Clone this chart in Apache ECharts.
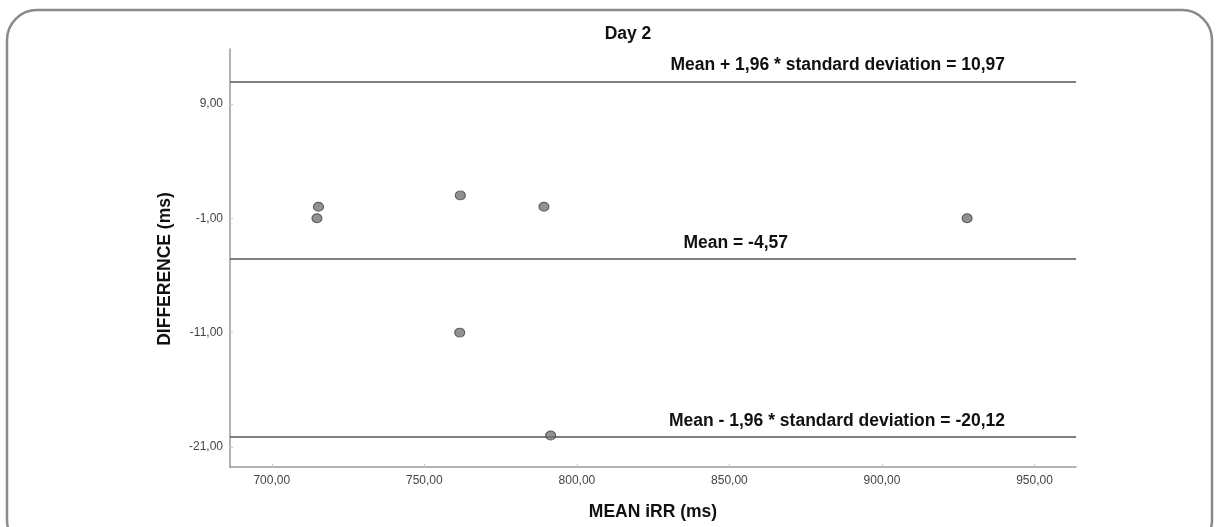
<!DOCTYPE html>
<html>
<head>
<meta charset="utf-8">
<script src="https://cdn.jsdelivr.net/npm/echarts@6/dist/echarts.min.js"></script>
<style>
html,body{margin:0;padding:0;background:#fff;}
#chart{width:1219px;height:527px;}
</style>
</head>
<body>
<div id="chart"></div>
<script>
// Data
const meanIRR = [715.3, 714.8, 761.8, 789.2, 927.9, 761.6, 791.4];
const difference = [0, -1, 1, 0, -1, -11, -20];
const xTicks = [700, 750, 800, 850, 900, 950];
const yTicks = [9, -1, -11, -21];
const refValues = [10.97, -4.57, -20.12];
const refLabels = [
  'Mean + 1,96 * standard deviation = 10,97',
  'Mean = -4,57',
  'Mean - 1,96 * standard deviation = -20,12'
];
const titleText = 'Day 2';
const xName = 'MEAN iRR (ms)';
const yName = 'DIFFERENCE (ms)';

const points = meanIRR.map((x, i) => [x, difference[i]]);
const fmt = v => v.toFixed(2).replace('.', ',');
const FONT = '"Liberation Sans", Arial, sans-serif';
const labelPad = [64, 281, 64];

const chart = echarts.init(document.getElementById('chart'), null, {renderer: 'canvas'});
chart.setOption({
  animation: false,
  backgroundColor: '#ffffff',
  graphic: [{
    type: 'rect',
    shape: {x: 7, y: 10, width: 1205, height: 540, r: 30},
    style: {fill: 'none', stroke: '#8a8a8a', lineWidth: 2.5},
    silent: true, z: -10
  }],
  title: {
    text: titleText,
    left: 623, top: 20,
    textAlign: 'center',
    textStyle: {fontFamily: FONT, fontSize: 17.5, fontWeight: 'bold', color: '#111'}
  },
  grid: {left: 230, right: 143, top: 49, bottom: 60, containLabel: false},
  xAxis: {
    type: 'value',
    min: 686.3, max: 963.6,
    name: xName, nameLocation: 'middle', nameGap: 36,
    nameTextStyle: {fontFamily: FONT, fontSize: 17.5, fontWeight: 'bold', color: '#111'},
    axisLine: {show: true, onZero: false, lineStyle: {color: '#9a9a9a', width: 1.5}},
    axisTick: {show: true, length: 3, inside: true, customValues: xTicks, lineStyle: {color: '#c8c8c8'}},
    axisLabel: {customValues: xTicks, formatter: fmt, margin: 8,
      fontFamily: FONT, fontSize: 12, color: '#444'},
    splitLine: {show: false}
  },
  yAxis: {
    type: 'value',
    min: -22.75, max: 13.8,
    name: yName, nameLocation: 'middle', nameGap: 56,
    nameTextStyle: {fontFamily: FONT, fontSize: 17.5, fontWeight: 'bold', color: '#111', padding: [0, 22, 0, 0]},
    axisLine: {show: true, onZero: false, lineStyle: {color: '#9a9a9a', width: 1.5}},
    axisTick: {show: true, length: 3, inside: true, customValues: yTicks, lineStyle: {color: '#c8c8c8'}},
    axisLabel: {customValues: yTicks, formatter: fmt, margin: 7,
      fontFamily: FONT, fontSize: 12, color: '#444'},
    splitLine: {show: false}
  },
  series: [{
    type: 'scatter',
    data: points,
    symbol: 'circle',
    symbolSize: [10, 9],
    itemStyle: {color: '#767676', borderColor: '#3c3c3c', borderWidth: 1},
    z: 5,
    markLine: {
      silent: true,
      symbol: ['none', 'none'],
      lineStyle: {color: '#555', width: 1.5, type: 'solid'},
      data: refValues.map((v, i) => ({
        yAxis: v,
        label: {
          show: true,
          formatter: refLabels[i],
          position: 'insideEndTop',
          distance: 7,
          padding: [0, labelPad[i], 0, 0],
          fontFamily: FONT, fontSize: 17.5, fontWeight: 'bold', color: '#111'
        }
      }))
    }
  }]
});
</script>
</body>
</html>
